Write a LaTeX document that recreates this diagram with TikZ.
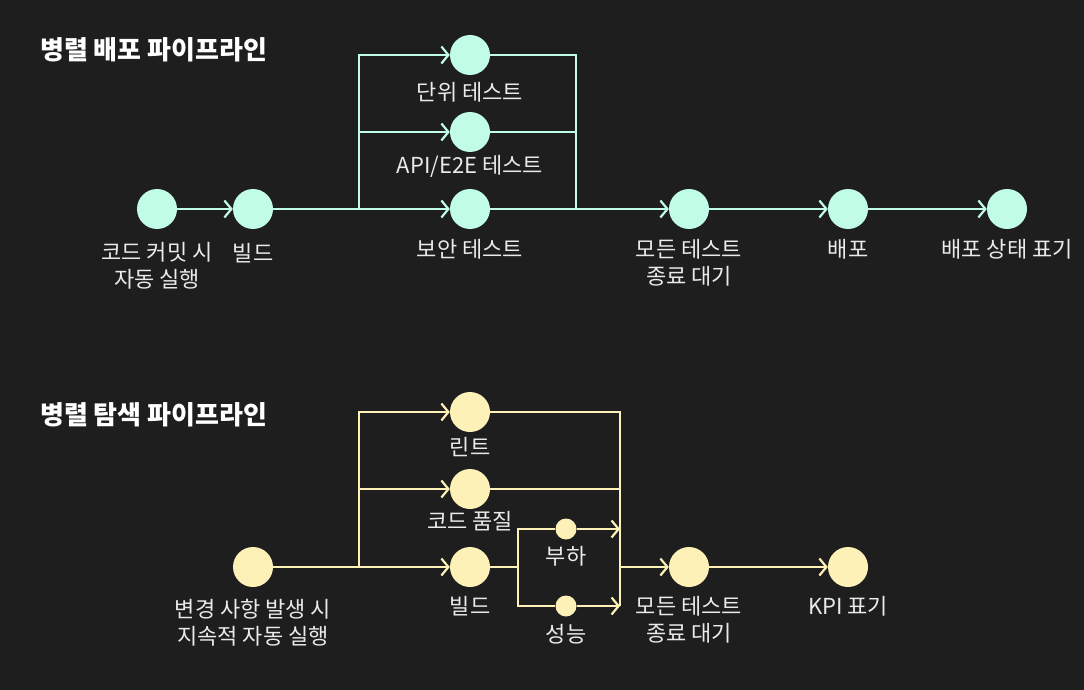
\documentclass[tikz,border=0pt]{standalone}
\usepackage{fontspec}
\setmainfont{Noto Sans CJK KR}
\usetikzlibrary{arrows.meta,positioning}
\definecolor{bgdark}{HTML}{1E1E1E}
\definecolor{mint}{HTML}{C0FCE6}
\definecolor{sand}{HTML}{FDF1B8}
\definecolor{lbltext}{HTML}{EAEAEA}
\tikzset{
  >={Straight Barb[length=7pt,width=17pt]},
  mdot/.style={circle,fill=mint,minimum size=40pt,inner sep=0pt},
  sdot/.style={circle,fill=sand,minimum size=40pt,inner sep=0pt},
  sdotsm/.style={circle,fill=sand,minimum size=21pt,inner sep=0pt},
  mflow/.style={draw=mint,line width=2.2pt},
  sflow/.style={draw=sand,line width=2.2pt},
  lbl/.style={text=lbltext,align=center,inner sep=0pt,
    font=\fontsize{22}{27}\selectfont},
  ttl/.style={text=white,anchor=west,inner sep=0pt,
    font=\fontsize{26}{30}\selectfont\bfseries},
}

\begin{document}
\begin{tikzpicture}[x=1pt,y=-1pt]
  \fill[bgdark] (0,0) rectangle (1084,690);

  % deploy pipeline
  \node[ttl] (ttldeploy) at (40,50) {병렬 배포 파이프라인};
  \node[mdot] (commit) at (157,209) {};
  \node[mdot] (build) at (253,209) {};
  \node[mdot] (unit) at (470,55) {};
  \node[mdot] (api) at (470,132) {};
  \node[mdot] (sec) at (470,209) {};
  \node[mdot] (wait) at (689,209) {};
  \node[mdot] (deploy) at (848,209) {};
  \node[mdot] (status) at (1007,209) {};
  \coordinate (split) at (359,209);
  \coordinate (join) at (576,209);

  \node[lbl] (commitL) at (157,266) {코드 커밋 시\\자동 실행};
  \node[lbl] (buildL) at (253,253) {빌드};
  \node[lbl] (unitL) at (470,92) {단위 테스트};
  \node[lbl] (apiL) at (470,166) {API/E2E 테스트};
  \node[lbl] (secL) at (470,249) {보안 테스트};
  \node[lbl] (waitL) at (689,263) {모든 테스트\\종료 대기};
  \node[lbl] (deployL) at (848,249) {배포};
  \node[lbl] (statusL) at (1007,249) {배포 상태 표기};

  \draw[mflow,->] (commit) -- (build);
  \draw[mflow,->] (build) -- (sec);
  \draw[mflow,->] (split) |- (unit);
  \draw[mflow,->] (split) |- (api);
  \draw[mflow] (unit) -| (join);
  \draw[mflow] (api) -| (join);
  \draw[mflow,->] (sec) -- (wait);
  \draw[mflow,->] (wait) -- (deploy);
  \draw[mflow,->] (deploy) -- (status);

  % explore pipeline
  \node[ttl] (ttlexplore) at (40,415) {병렬 탐색 파이프라인};
  \node[sdot] (trigger) at (253,567) {};
  \node[sdot] (lint) at (470,412) {};
  \node[sdot] (quality) at (470,489) {};
  \node[sdot] (sbuild) at (470,567) {};
  \node[sdotsm] (load) at (566,529) {};
  \node[sdotsm] (perf) at (566,606) {};
  \node[sdot] (swait) at (689,567) {};
  \node[sdot] (kpi) at (848,567) {};
  \coordinate (ssplit) at (359,567);
  \coordinate (fork) at (518,567);
  \coordinate (sjoin) at (620,567);
  \coordinate (sjoinlow) at (620,606);

  \node[lbl] (triggerL) at (253,623) {변경 사항 발생 시\\지속적 자동 실행};
  \node[lbl] (lintL) at (470,447) {린트};
  \node[lbl] (qualityL) at (470,521) {코드 품질};
  \node[lbl] (sbuildL) at (470,606) {빌드};
  \node[lbl] (loadL) at (566,556) {부하};
  \node[lbl] (perfL) at (566,634) {성능};
  \node[lbl] (swaitL) at (689,620) {모든 테스트\\종료 대기};
  \node[lbl] (kpiL) at (848,606) {KPI 표기};

  \draw[sflow,->] (trigger) -- (sbuild);
  \draw[sflow,->] (ssplit) |- (lint);
  \draw[sflow,->] (ssplit) |- (quality);
  \draw[sflow] (lint) -| (sjoinlow);
  \draw[sflow] (quality) -| (sjoinlow);
  \draw[sflow] (sbuild) -- (fork);
  \draw[sflow] (fork) |- (load);
  \draw[sflow] (fork) |- (perf);
  \draw[sflow,->] (load) -- (load -| sjoin);
  \draw[sflow,->] (perf) -- (perf -| sjoin);
  \draw[sflow,->] (sjoin) -- (swait);
  \draw[sflow,->] (swait) -- (kpi);
\end{tikzpicture}
\end{document}
